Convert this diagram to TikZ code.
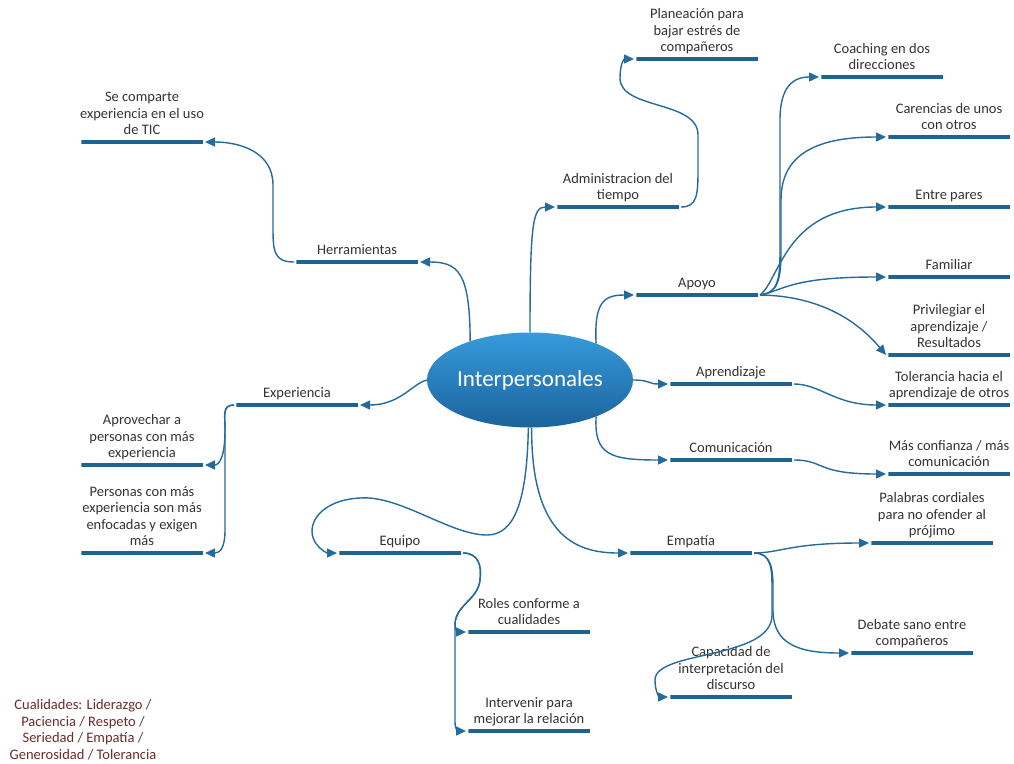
\documentclass[tikz,border=0pt]{standalone}
\usepackage{fontspec}
\setmainfont{Carlito}
\usepackage{tikz}
\usetikzlibrary{shapes.geometric,arrows.meta}
\usetikzlibrary{positioning}
\definecolor{barblue}{HTML}{1F6391}
\definecolor{linkblue}{HTML}{256A9C}
\definecolor{txtgray}{HTML}{333333}
\definecolor{notered}{HTML}{6B2B2B}
\tikzstyle{bar} = [draw=barblue, line width=4.5pt, minimum width=121.5pt, minimum height=0pt, inner sep=0pt]
\tikzstyle{link} = [draw=linkblue, line width=1.4pt, -{Triangle[length=10pt,width=9pt]}]
\tikzstyle{txt} = [font=\fontsize{14.5}{16.5}\selectfont, text=txtgray, align=center, inner sep=0pt, text depth=0pt]
\tikzstyle{note} = [font=\fontsize{14.5}{16.5}\selectfont, text=notered, align=center, inner sep=0pt]
\tikzstyle{hub} = [ellipse, minimum width=200pt, minimum height=95pt, inner sep=0pt, top color={rgb,255:red,54;green,155;blue,219}, bottom color={rgb,255:red,27;green,99;blue,156}, text=white, font=\fontsize{23}{27}\selectfont]

\begin{document}
\begin{tikzpicture}[x=1pt,y=-1pt]

		\useasboundingbox (0,0) rectangle (1014,763);

		\node[hub] (ctr) at (530,380) {Interpersonales};

		\node[bar] (plan) at (697,59) {};
		\node[bar] (coach) at (882,77) {};
		\node[bar] (caren) at (949,137) {};
		\node[bar] (pares) at (949,207) {};
		\node[bar] (famil) at (949,277) {};
		\node[bar] (privi) at (949,355) {};
		\node[bar] (toler) at (949,405) {};
		\node[bar] (confi) at (949,474) {};
		\node[bar] (palab) at (932,543) {};
		\node[bar] (debat) at (912,653) {};
		\node[bar] (capac) at (731,697) {};
		\node[bar] (admin) at (618,207) {};
		\node[bar] (apoyo) at (697,295) {};
		\node[bar] (apren) at (731,384) {};
		\node[bar] (comun) at (731,460) {};
		\node[bar] (empat) at (691,553) {};
		\node[bar] (equip) at (400,553) {};
		\node[bar] (roles) at (529,632) {};
		\node[bar] (inter) at (529,731) {};
		\node[bar] (herr) at (357,262) {};
		\node[bar] (tic) at (142,142) {};
		\node[bar] (expe) at (297,405) {};
		\node[bar] (aprov) at (142,465) {};
		\node[bar] (perso) at (142,553) {};

		\node[txt, above=5pt of plan] (plan-t) {Planeación para\\bajar estrés de\\compañeros};
		\node[txt, above=5pt of coach] (coach-t) {Coaching en dos\\direcciones};
		\node[txt, above=5pt of caren] (caren-t) {Carencias de unos\\con otros};
		\node[txt, above=5pt of pares] (pares-t) {Entre pares};
		\node[txt, above=5pt of famil] (famil-t) {Familiar};
		\node[txt, above=5pt of privi] (privi-t) {Privilegiar el\\aprendizaje /\\Resultados};
		\node[txt, above=5pt of toler] (toler-t) {Tolerancia hacia el\\aprendizaje de otros};
		\node[txt, above=5pt of confi] (confi-t) {Más confianza / más\\comunicación};
		\node[txt, above=5pt of palab] (palab-t) {Palabras cordiales\\para no ofender al\\prójimo};
		\node[txt, above=5pt of debat] (debat-t) {Debate sano entre\\compañeros};
		\node[txt, above=5pt of capac] (capac-t) {Capacidad de\\interpretación del\\discurso};
		\node[txt, above=5pt of admin] (admin-t) {Administracion del\\tiempo};
		\node[txt, above=5pt of apoyo] (apoyo-t) {Apoyo};
		\node[txt, above=5pt of apren] (apren-t) {Aprendizaje};
		\node[txt, above=5pt of comun] (comun-t) {Comunicación};
		\node[txt, above=5pt of empat] (empat-t) {Empatía};
		\node[txt, above=5pt of equip] (equip-t) {Equipo};
		\node[txt, above=5pt of roles] (roles-t) {Roles conforme a\\cualidades};
		\node[txt, above=5pt of inter] (inter-t) {Intervenir para\\mejorar la relación};
		\node[txt, above=5pt of herr] (herr-t) {Herramientas};
		\node[txt, above=5pt of tic] (tic-t) {Se comparte\\experiencia en el uso\\de TIC};
		\node[txt, above=5pt of expe] (expe-t) {Experiencia};
		\node[txt, above=5pt of aprov] (aprov-t) {Aprovechar a\\personas con más\\experiencia};
		\node[txt, above=5pt of perso] (perso-t) {Personas con más\\experiencia son más\\enfocadas y exigen\\más};

		\node[note] (cual) at (83,730) {Cualidades: Liderazgo /\\Paciencia / Respeto /\\Seriedad / Empatía /\\Generosidad / Tolerancia};

		\draw[link] (ctr.147) .. controls (470,272) and (458,262) .. (herr.east);
		\draw[link] (herr.west) .. controls (273,262) and (273,250) .. (273,225) -- (273,185) .. controls (273,152) and (240,142) .. (tic.east);
		\draw[link] (ctr.90) .. controls (530,222) and (533,207) .. (admin.west);
		\draw[link] (admin.east) .. controls (697,207) and (698,195) .. (698,170) -- (698,135) .. controls (698,100) and (620,110) .. (620,78) .. controls (620,64) and (624,59) .. (plan.west);
		\draw[link] (ctr.29) .. controls (594,302) and (604,295) .. (apoyo.west);
		\draw[link] (apoyo.east) .. controls (778,293) and (780,280) .. (780,250) -- (780,120) .. controls (780,88) and (792,77) .. (coach.west);
		\draw[link] (apoyo.east) .. controls (778,293) and (781,280) .. (781,250) -- (781,200) .. controls (781,152) and (820,137) .. (caren.west);
		\draw[link] (apoyo.east) .. controls (780,280) and (785,207) .. (pares.west);
		\draw[link] (apoyo.east) .. controls (785,290) and (790,277) .. (famil.west);
		\draw[link] (apoyo.east) .. controls (830,296) and (865,330) .. (privi.west);
		\draw[link] (ctr.east) .. controls (650,380) and (648,384) .. (apren.west);
		\draw[link] (apren.east) .. controls (820,384) and (835,405) .. (toler.west);
		\draw[link] (ctr.-29) .. controls (594,455) and (610,460) .. (comun.west);
		\draw[link] (comun.east) .. controls (825,460) and (815,474) .. (confi.west);
		\draw[link] (ctr.-88) .. controls (531,540) and (580,553) .. (empat.west);
		\draw[link] (empat.east) .. controls (780,553) and (790,543) .. (palab.west);
		\draw[link] (empat.east) .. controls (772,553) and (773,570) .. (773,590) -- (773,610) .. controls (773,645) and (800,653) .. (debat.west);
		\draw[link] (empat.east) .. controls (772,553) and (772,570) .. (772,590) -- (772,615) .. controls (772,660) and (655,650) .. (655,680) .. controls (655,693) and (660,697) .. (capac.west);
		\draw[link] (ctr.west) .. controls (412,384) and (400,405) .. (expe.east);
		\draw[link] (expe.west) .. controls (222,405) and (225,415) .. (225,430) .. controls (225,455) and (220,465) .. (aprov.east);
		\draw[link] (expe.west) .. controls (222,405) and (225,415) .. (225,430) -- (225,530) .. controls (225,548) and (220,553) .. (perso.east);
		\draw[link] (ctr.-92) .. controls (527,500) and (515,535) .. (487,535) .. controls (450,535) and (400,495) .. (360,498) .. controls (320,500) and (305,525) .. (315,542) .. controls (320,550) and (327,553) .. (equip.west);
		\draw[link] (equip.east) .. controls (478,553) and (482,565) .. (480,580) .. controls (478,600) and (455,605) .. (455,625) .. controls (455,630) and (458,632) .. (roles.west);
		\draw[link] (equip.east) .. controls (478,553) and (482,565) .. (480,580) .. controls (478,600) and (455,605) .. (455,625) -- (455,722) .. controls (455,729) and (458,731) .. (inter.west);

\end{tikzpicture}
\end{document}
